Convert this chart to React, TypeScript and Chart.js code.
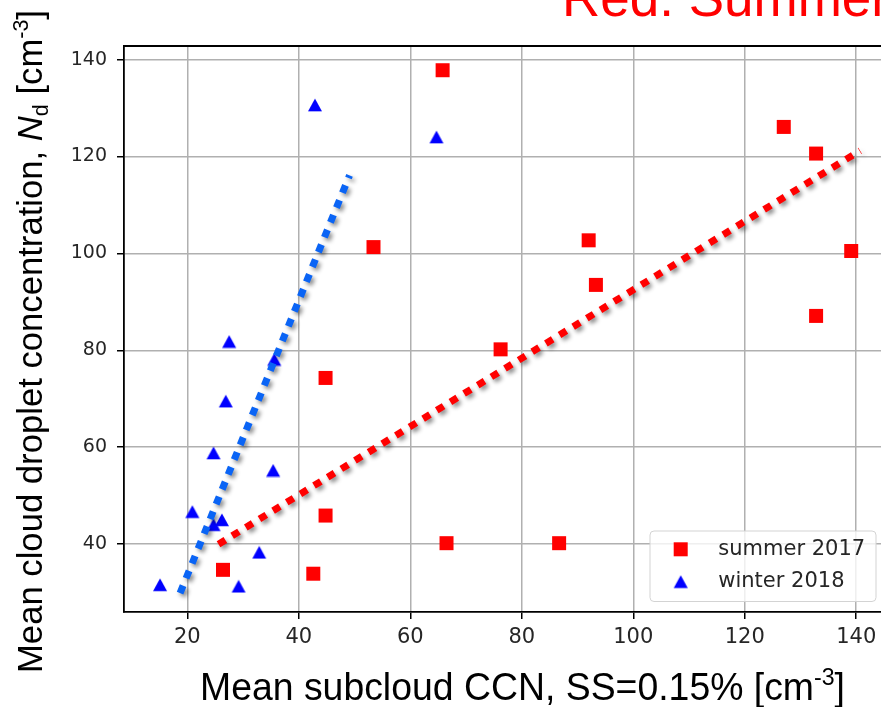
import React, { useEffect, useRef } from 'react';
import { Chart, registerables } from 'chart.js';

Chart.register(...registerables);

// Axis ticks
const xTicks = [20, 40, 60, 80, 100, 120, 140];
const yTicks = [40, 60, 80, 100, 120, 140];

// Axis limits
const xMin = 8.64;
const xMax = 145.7;
const yMin = 26.0;
const yMax = 142.8;

// Summer 2017 flights: mean subcloud CCN vs mean Nd
const summerCCN = [65.8, 53.4, 44.8, 44.8, 26.4, 42.6, 76.2, 66.5, 86.7, 92.0, 93.3, 127.0, 132.8, 139.1, 132.8];
const summerNd = [137.8, 101.3, 74.3, 45.9, 34.7, 33.9, 80.2, 40.2, 40.2, 102.7, 93.5, 126.1, 120.6, 100.5, 87.1];

// Winter 2018 flights
const winterCCN = [42.9, 64.7, 27.5, 35.6, 26.9, 24.7, 35.4, 20.9, 26.2, 24.7, 32.9, 15.1, 29.2];
const winterNd = [130.6, 124.0, 81.8, 78.1, 69.5, 58.8, 55.2, 46.7, 45.0, 44.0, 38.3, 31.6, 31.3];

// Hand-drawn trend lines (end points)
const summerFitCCN = [25.6, 140.7];
const summerFitNd = [40.0, 121.2];
const winterFitCCN = [18.7, 49.1];
const winterFitNd = [29.9, 116.1];

const seriesLabels = ['summer 2017', 'winter 2018'];

const SANS = '"Liberation Sans", Arial, sans-serif';
const MPL = '"DejaVu Sans", sans-serif';

type Seg = { t: string; italic?: boolean; shift?: 'sup' | 'sub' };

function segFont(seg: Seg, size: number) {
  const s = seg.shift ? size * 0.62 : size;
  return `${seg.italic ? 'italic ' : ''}${s}px ${SANS}`;
}

function measureRich(ctx: CanvasRenderingContext2D, segs: Seg[], size: number) {
  let w = 0;
  for (const seg of segs) {
    ctx.font = segFont(seg, size);
    w += ctx.measureText(seg.t).width;
  }
  return w;
}

// Draw a run of text with optional italic / super / subscript parts.
// Origin is at the start of the baseline in the current transform.
function drawRich(ctx: CanvasRenderingContext2D, segs: Seg[], size: number, color: string) {
  let x = 0;
  ctx.fillStyle = color;
  ctx.textBaseline = 'alphabetic';
  ctx.textAlign = 'left';
  for (const seg of segs) {
    ctx.font = segFont(seg, size);
    const dy = seg.shift === 'sup' ? -size * 0.4 : seg.shift === 'sub' ? size * 0.18 : 0;
    ctx.fillText(seg.t, x, dy);
    x += ctx.measureText(seg.t).width;
  }
}

const xTitle: Seg[] = [
  { t: 'Mean subcloud CCN, SS=0.15% [cm' },
  { t: '-3', shift: 'sup' },
  { t: ']' },
];

const yTitle: Seg[] = [
  { t: 'Mean cloud droplet concentration, ' },
  { t: 'N', italic: true },
  { t: 'd', shift: 'sub' },
  { t: ' [cm' },
  { t: '-3', shift: 'sup' },
  { t: ']' },
];

function makeTriangle(color: string) {
  const c = document.createElement('canvas');
  c.width = 16;
  c.height = 14;
  const g = c.getContext('2d')!;
  g.fillStyle = color;
  g.beginPath();
  g.moveTo(8, 0.6);
  g.lineTo(15, 13.2);
  g.lineTo(1, 13.2);
  g.closePath();
  g.fill();
  return c;
}

const fitShadow = {
  id: 'fitShadow',
  beforeDatasetDraw(chart: any, args: any) {
    const ds = chart.data.datasets[args.index];
    if (ds.type === 'line') {
      const ctx = chart.ctx;
      ctx.save();
      ctx.shadowColor = 'rgba(0,0,0,0.45)';
      ctx.shadowBlur = 4;
      ctx.shadowOffsetX = 2.5;
      ctx.shadowOffsetY = 3;
    }
  },
  afterDatasetDraw(chart: any, args: any) {
    const ds = chart.data.datasets[args.index];
    if (ds.type === 'line') chart.ctx.restore();
  },
};

const frameAndText = {
  id: 'frameAndText',
  beforeDatasetsDraw(chart: any) {
    const { ctx, chartArea } = chart;
    ctx.save();
    ctx.strokeStyle = '#000';
    ctx.lineWidth = 1.8;
    ctx.beginPath();
    ctx.moveTo(chartArea.left, chartArea.top);
    ctx.lineTo(chartArea.right, chartArea.top);
    ctx.lineTo(chartArea.right, chartArea.bottom);
    ctx.stroke();
    ctx.restore();
  },
  afterDraw(chart: any) {
    const { ctx, chartArea } = chart;
    const tri = chart.data.datasets[3].pointStyle;

    // Legend (lower right, inside the axes)
    const lw = 226;
    const lh = 70.5;
    const lx = chartArea.right - 12 - lw;
    const ly = chartArea.bottom - 10.5 - lh;
    ctx.save();
    ctx.beginPath();
    ctx.roundRect(lx, ly, lw, lh, 4);
    ctx.fillStyle = 'rgba(255,255,255,0.8)';
    ctx.fill();
    ctx.strokeStyle = '#d3d3d3';
    ctx.lineWidth = 1;
    ctx.stroke();
    const mx = lx + 30.7;
    const r1 = ly + 18.3;
    const r2 = ly + 50.7;
    ctx.fillStyle = '#ff0000';
    ctx.fillRect(mx - 7, r1 - 7, 14, 14);
    ctx.drawImage(tri, mx - tri.width / 2, r2 - tri.height / 2);
    ctx.fillStyle = '#262626';
    ctx.font = `21px ${MPL}`;
    ctx.textBaseline = 'middle';
    ctx.textAlign = 'left';
    ctx.fillText(seriesLabels[0], lx + 68.3, r1);
    ctx.fillText(seriesLabels[1], lx + 68.3, r2);
    ctx.restore();

    // X axis title
    ctx.save();
    const xs = 38;
    const xw = measureRich(ctx, xTitle, xs);
    const xTarget = 645;
    ctx.translate(522.5 - xTarget / 2, 700);
    ctx.scale(xTarget / xw, 1);
    drawRich(ctx, xTitle, xs, '#000');
    ctx.restore();

    // Y axis title
    ctx.save();
    const ys = 35;
    const yw = measureRich(ctx, yTitle, ys);
    const yTarget = 663;
    ctx.translate(42, 341.5 + yTarget / 2);
    ctx.rotate(-Math.PI / 2);
    ctx.scale(yTarget / yw, 1);
    drawRich(ctx, yTitle, ys, '#000');
    ctx.restore();

    // Slide caption
    ctx.save();
    ctx.translate(562, 16);
    drawRich(ctx, [{ t: 'Red: Summer' }], 53, '#ff0000');
    ctx.restore();
  },
};

export default function App() {
  const ref = useRef<HTMLCanvasElement>(null);

  useEffect(() => {
    const canvas = ref.current!;
    const triangle = makeTriangle('#0000ff');
    const pts = (xs: number[], ys: number[]) => xs.map((x, i) => ({ x, y: ys[i] }));

    const chart = new Chart(canvas, {
      type: 'scatter',
      data: {
        datasets: [
          {
            type: 'line',
            label: 'summer trend',
            data: pts(summerFitCCN, summerFitNd),
            borderColor: '#ff0000',
            borderWidth: 7,
            borderDash: [8, 8],
            borderCapStyle: 'butt',
            pointRadius: 0,
            fill: false,
            showLine: true,
            order: 0,
          },
          {
            type: 'line',
            label: 'winter trend',
            data: pts(winterFitCCN, winterFitNd),
            borderColor: '#0a64f5',
            borderWidth: 7,
            borderDash: [8, 8],
            borderCapStyle: 'butt',
            pointRadius: 0,
            fill: false,
            showLine: true,
            order: 0,
          },
          {
            label: seriesLabels[0],
            data: pts(summerCCN, summerNd),
            pointStyle: 'rect',
            pointRadius: 9.9,
            backgroundColor: '#ff0000',
            borderWidth: 0,
            order: 1,
          },
          {
            label: seriesLabels[1],
            data: pts(winterCCN, winterNd),
            pointStyle: triangle,
            pointRadius: 8,
            backgroundColor: '#0000ff',
            borderWidth: 0,
            order: 1,
          },
        ],
      } as any,
      options: {
        responsive: false,
        animation: false,
        devicePixelRatio: 1,
        events: [],
        layout: { padding: { top: 46, right: 12, left: 0, bottom: 0 } },
        plugins: {
          legend: { display: false },
          tooltip: { enabled: false },
        },
        scales: {
          x: {
            type: 'linear',
            min: xMin,
            max: xMax,
            afterBuildTicks: (s: any) => {
              s.ticks = xTicks.map((v) => ({ value: v }));
            },
            afterFit: (s: any) => {
              s.height = 95;
            },
            grid: {
              color: '#b0b0b0',
              lineWidth: 1.5,
              tickLength: 7,
              tickColor: '#000',
              tickWidth: 1.5,
            },
            border: { display: true, color: '#000', width: 1.8 },
            ticks: {
              font: { family: MPL, size: 21 },
              color: '#262626',
              padding: 6,
              maxRotation: 0,
            },
          },
          y: {
            type: 'linear',
            min: yMin,
            max: yMax,
            afterBuildTicks: (s: any) => {
              s.ticks = yTicks.map((v) => ({ value: v }));
            },
            afterFit: (s: any) => {
              s.width = 124;
            },
            grid: {
              color: '#b0b0b0',
              lineWidth: 1.5,
              tickLength: 7,
              tickColor: '#000',
              tickWidth: 1.5,
            },
            border: { display: true, color: '#000', width: 1.8 },
            ticks: {
              font: { family: MPL, size: 19 },
              color: '#262626',
              padding: 10,
            },
          },
        },
      } as any,
      plugins: [fitShadow, frameAndText],
    });

    return () => chart.destroy();
  }, []);

  return (
    <div
      style={{
        position: 'fixed',
        left: 0,
        top: 0,
        width: 881,
        height: 707,
        overflow: 'hidden',
        background: '#fff',
      }}
    >
      <canvas ref={ref} width={900} height={707} style={{ display: 'block', width: 900, height: 707 }} />
    </div>
  );
}
